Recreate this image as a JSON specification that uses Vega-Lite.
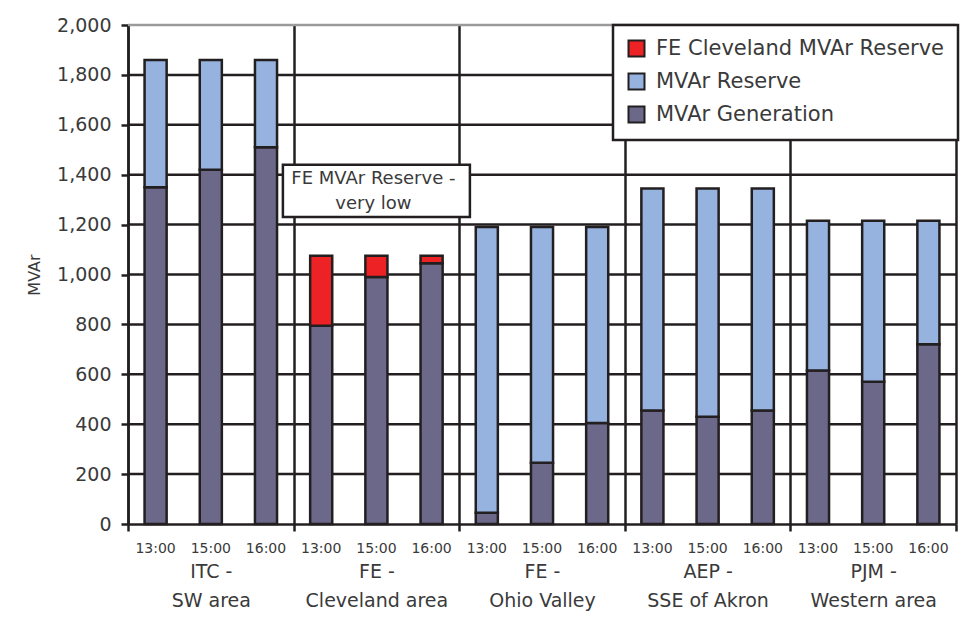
{
  "$schema": "https://vega.github.io/schema/vega-lite/v6.json",
  "width": 828,
  "height": 499,
  "autosize": {"type": "none"},
  "padding": {"left": 128, "top": 25, "right": 10, "bottom": 102},
  "background": "white",
  "config": {
    "view": {"stroke": null},
    "font": "DejaVu Sans",
    "axis": {"labelFont": "DejaVu Sans", "titleFont": "DejaVu Sans", "labelColor": "#3a3a3a", "titleColor": "#3a3a3a"},
    "axisX": {
      "title": null,
      "labelAngle": 0,
      "labelAlign": "center",
      "labelFontSize": 19,
      "labelLineHeight": 29,
      "labelPadding": 31,
      "labelBaseline": "top",
      "labelExpr": "[slice(datum.label, 0, indexof(datum.label, '-') + 1), slice(datum.label, indexof(datum.label, '-') + 2)]",
      "tickBand": "extent",
      "tickSize": 7,
      "tickWidth": 2.5,
      "tickColor": "#231f20",
      "domainColor": "#231f20",
      "domainWidth": 2.5,
      "grid": true,
      "gridWidth": 2.5,
      "gridColor": "#231f20",
      "gridOpacity": 1
    },
    "axisY": {
      "titleFontSize": 16,
      "titleFontWeight": "normal",
      "titlePadding": 14,
      "values": [0, 200, 400, 600, 800, 1000, 1200, 1400, 1600, 1800, 2000],
      "format": ",.0f",
      "labelFontSize": 19,
      "labelPadding": 10,
      "tickSize": 7,
      "tickWidth": 2.5,
      "tickColor": "#231f20",
      "domainColor": "#231f20",
      "domainWidth": 2.5,
      "grid": false
    }
  },
  "datasets": {
    "bars": [
      {"area": "ITC - SW area", "time": "13:00", "series": "MVAr Generation", "mvar": 1350},
      {"area": "ITC - SW area", "time": "13:00", "series": "MVAr Reserve", "mvar": 510},
      {"area": "ITC - SW area", "time": "15:00", "series": "MVAr Generation", "mvar": 1420},
      {"area": "ITC - SW area", "time": "15:00", "series": "MVAr Reserve", "mvar": 440},
      {"area": "ITC - SW area", "time": "16:00", "series": "MVAr Generation", "mvar": 1510},
      {"area": "ITC - SW area", "time": "16:00", "series": "MVAr Reserve", "mvar": 350},
      {"area": "FE - Cleveland area", "time": "13:00", "series": "MVAr Generation", "mvar": 795},
      {"area": "FE - Cleveland area", "time": "13:00", "series": "FE Cleveland MVAr Reserve", "mvar": 280},
      {"area": "FE - Cleveland area", "time": "15:00", "series": "MVAr Generation", "mvar": 990},
      {"area": "FE - Cleveland area", "time": "15:00", "series": "FE Cleveland MVAr Reserve", "mvar": 85},
      {"area": "FE - Cleveland area", "time": "16:00", "series": "MVAr Generation", "mvar": 1045},
      {"area": "FE - Cleveland area", "time": "16:00", "series": "FE Cleveland MVAr Reserve", "mvar": 30},
      {"area": "FE - Ohio Valley", "time": "13:00", "series": "MVAr Generation", "mvar": 45},
      {"area": "FE - Ohio Valley", "time": "13:00", "series": "MVAr Reserve", "mvar": 1145},
      {"area": "FE - Ohio Valley", "time": "15:00", "series": "MVAr Generation", "mvar": 245},
      {"area": "FE - Ohio Valley", "time": "15:00", "series": "MVAr Reserve", "mvar": 945},
      {"area": "FE - Ohio Valley", "time": "16:00", "series": "MVAr Generation", "mvar": 405},
      {"area": "FE - Ohio Valley", "time": "16:00", "series": "MVAr Reserve", "mvar": 785},
      {"area": "AEP - SSE of Akron", "time": "13:00", "series": "MVAr Generation", "mvar": 455},
      {"area": "AEP - SSE of Akron", "time": "13:00", "series": "MVAr Reserve", "mvar": 890},
      {"area": "AEP - SSE of Akron", "time": "15:00", "series": "MVAr Generation", "mvar": 430},
      {"area": "AEP - SSE of Akron", "time": "15:00", "series": "MVAr Reserve", "mvar": 915},
      {"area": "AEP - SSE of Akron", "time": "16:00", "series": "MVAr Generation", "mvar": 455},
      {"area": "AEP - SSE of Akron", "time": "16:00", "series": "MVAr Reserve", "mvar": 890},
      {"area": "PJM - Western area", "time": "13:00", "series": "MVAr Generation", "mvar": 615},
      {"area": "PJM - Western area", "time": "13:00", "series": "MVAr Reserve", "mvar": 600},
      {"area": "PJM - Western area", "time": "15:00", "series": "MVAr Generation", "mvar": 570},
      {"area": "PJM - Western area", "time": "15:00", "series": "MVAr Reserve", "mvar": 645},
      {"area": "PJM - Western area", "time": "16:00", "series": "MVAr Generation", "mvar": 720},
      {"area": "PJM - Western area", "time": "16:00", "series": "MVAr Reserve", "mvar": 495}
    ],
    "gridlines": [
      {"area": "ITC - SW area", "v": [200, 400, 600, 800, 1000, 1200, 1400, 1600, 1800]},
      {"area": "FE - Cleveland area", "v": [200, 400, 600, 800, 1000, 1200, 1400, 1600, 1800]},
      {"area": "FE - Ohio Valley", "v": [200, 400, 600, 800, 1000, 1200, 1400, 1600, 1800]},
      {"area": "AEP - SSE of Akron", "v": [200, 400, 600, 800, 1000, 1200, 1400, 1600, 1800]},
      {"area": "PJM - Western area", "v": [200, 400, 600, 800, 1000, 1200, 1400, 1600, 1800]}
    ],
    "topline": [
      {"area": "ITC - SW area", "v": 2000},
      {"area": "FE - Cleveland area", "v": 2000},
      {"area": "FE - Ohio Valley", "v": 2000},
      {"area": "AEP - SSE of Akron", "v": 2000},
      {"area": "PJM - Western area", "v": 2000}
    ],
    "note": [
      {"area": "FE - Cleveland area", "low": 1230, "high": 1440, "mid": 1337, "text": "FE MVAr Reserve -|very low"}
    ]
  },
  "layer": [
    {
      "data": {"name": "gridlines"},
      "transform": [{"flatten": ["v"]}],
      "mark": {"type": "bar", "fill": "transparent", "stroke": "#231f20", "strokeWidth": 2.5},
      "encoding": {
        "x": {"field": "area", "type": "nominal", "sort": null, "scale": {"paddingInner": 0, "paddingOuter": 0}, "axis": {"orient": "bottom"}},
        "y": {"field": "v", "type": "quantitative", "stack": null, "scale": {"domain": [0, 2000], "nice": false}, "axis": {"title": "MVAr"}},
        "y2": {"field": "v"}
      }
    },
    {
      "data": {"name": "topline"},
      "mark": {"type": "bar", "fill": "transparent", "stroke": "#9a9a9a", "strokeWidth": 2.5},
      "encoding": {
        "x": {"field": "area", "type": "nominal", "sort": null, "axis": {"orient": "bottom"}},
        "y": {"field": "v", "type": "quantitative", "stack": null, "axis": {"title": "MVAr"}},
        "y2": {"field": "v"}
      }
    },
    {
      "data": {"name": "bars"},
      "transform": [
        {"calculate": "indexof(['MVAr Generation', 'MVAr Reserve', 'FE Cleveland MVAr Reserve'], datum.series)", "as": "stackRank"}
      ],
      "mark": {"type": "bar", "stroke": "#231f20", "strokeWidth": 2.5},
      "encoding": {
        "x": {"field": "area", "type": "nominal", "sort": null, "axis": {"orient": "bottom"}},
        "xOffset": {
          "field": "time", "type": "nominal",
          "scale": {"paddingInner": 0.6, "paddingOuter": 0.3}
        },
        "y": {"field": "mvar", "type": "quantitative", "stack": "zero", "axis": {"title": "MVAr"}},
        "order": {"field": "stackRank", "type": "quantitative", "sort": "ascending"},
        "color": {
          "field": "series", "type": "nominal",
          "scale": {
            "domain": ["FE Cleveland MVAr Reserve", "MVAr Reserve", "MVAr Generation"],
            "range": ["#ed2224", "#95b3de", "#6b6889"]
          },
          "legend": {
            "title": null,
            "orient": "none",
            "legendX": 485,
            "legendY": 0,
            "fillColor": "white",
            "strokeColor": "#231f20",
            "padding": 13,
            "labelFontSize": 21,
            "labelFont": "DejaVu Sans",
            "labelColor": "#3a3a3a",
            "labelLimit": 0,
            "labelOffset": 9,
            "rowPadding": 8,
            "symbolType": "square",
            "symbolSize": 256,
            "symbolStrokeColor": "#231f20",
            "symbolStrokeWidth": 2,
            "symbolOpacity": 1,
            "encode": {"legend": {"update": {"strokeWidth": {"value": 2.5}}}}
          }
        }
      }
    },
    {
      "data": {"name": "bars"},
      "transform": [{"filter": "datum.series == 'MVAr Generation'"}],
      "mark": {"type": "text", "fontSize": 14, "color": "#3a3a3a", "dy": 25, "baseline": "middle", "font": "DejaVu Sans"},
      "encoding": {
        "x": {"field": "area", "type": "nominal", "sort": null},
        "xOffset": {"field": "time", "type": "nominal"},
        "y": {"datum": 0},
        "text": {"field": "time", "type": "nominal"}
      }
    },
    {
      "data": {"name": "note"},
      "mark": {"type": "bar", "fill": "white", "stroke": "#231f20", "strokeWidth": 2.5, "width": 187},
      "encoding": {
        "x": {"field": "area", "type": "nominal", "sort": null},
        "y": {"field": "low", "type": "quantitative"},
        "y2": {"field": "high"}
      }
    },
    {
      "data": {"name": "note"},
      "mark": {"type": "text", "fontSize": 18, "color": "#3a3a3a", "lineBreak": "|", "lineHeight": 25, "baseline": "middle", "align": "center", "font": "DejaVu Sans", "dx": -3, "dy": -11},
      "encoding": {
        "x": {"field": "area", "type": "nominal", "sort": null},
        "y": {"field": "mid", "type": "quantitative"},
        "text": {"field": "text", "type": "nominal"}
      }
    }
  ]
}
